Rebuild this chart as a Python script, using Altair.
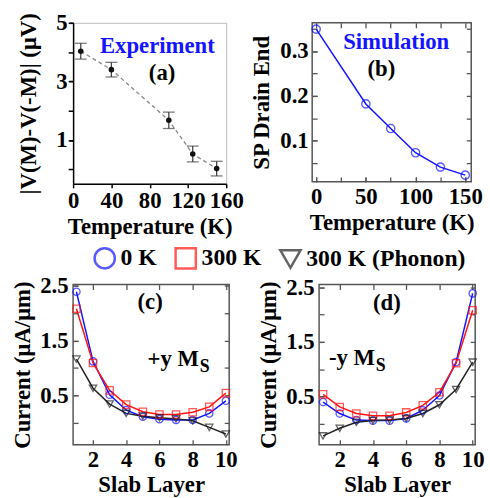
import altair as alt
import pandas as pd

FONT = "Liberation Serif"

# ---------------- data ----------------
# (a) experiment
temp_a = [8, 40, 100, 125, 150]
volt_a = [4.03, 3.40, 1.67, 0.52, 0.02]
err_a = [0.27, 0.25, 0.28, 0.27, 0.25]

# (b) simulation
temp_b = [0, 50, 75, 100, 125, 150]
sp_b = [0.349, 0.182, 0.127, 0.073, 0.041, 0.023]

# (c)/(d) slab currents
slab = [1, 2, 3, 4, 5, 6, 7, 8, 9, 10]
c_0k = [2.39, 1.12, 0.51, 0.23, 0.11, 0.065, 0.05, 0.05, 0.17, 0.40]
c_300k = [2.08, 1.09, 0.59, 0.33, 0.20, 0.15, 0.15, 0.19, 0.29, 0.54]
c_ph = [1.16, 0.63, 0.34, 0.17, 0.12, 0.09, 0.07, 0.035, -0.085, -0.205]
d_0k = [0.40, 0.19, 0.07, 0.06, 0.06, 0.10, 0.25, 0.52, 1.13, 2.39]
d_300k = [0.54, 0.31, 0.19, 0.15, 0.15, 0.21, 0.34, 0.58, 1.11, 2.08]
d_ph = [-0.22, -0.08, 0.03, 0.06, 0.07, 0.10, 0.19, 0.35, 0.63, 1.13]

series_names = ["0 K", "300 K", "300 K (Phonon)"]
series_colors = ["#1414ff", "#ff1414", "#222222"]
series_shapes = ["circle", "square", "triangle-down"]

# tick values (labelled sets are split in two so every label is kept)
a_x_lab1 = [0, 80, 160]
a_x_lab2 = [40, 120]
a_y_lab = [1, 3, 5]
a_y_all = [0, 1, 2, 3, 4, 5]
b_x_lab1 = [0, 50, 100, 150]
b_x_lab2 = []
b_x_all = [0, 25, 50, 75, 100, 125, 150]
b_y_lab = [0.1, 0.2, 0.3]
b_y_all = [0.05, 0.1, 0.15, 0.2, 0.25, 0.3, 0.35]
cd_x_lab1 = [2, 6, 10]
cd_x_lab2 = [4, 8]
cd_x_all = [2, 4, 6, 8, 10]
cd_y_lab = [0.5, 1.5, 2.5]
cd_y_all = [0, 0.5, 1, 1.5, 2, 2.5]

FRAME = "#555555"
LBL = dict(labelFont=FONT, labelFontSize=23, labelFontWeight="bold", labelColor="black",
           titleFont=FONT, titleFontSize=23, titleFontWeight="bold", titleColor="black",
           labelOverlap=False, labelFlush=False, grid=False)


# ---------------- helpers ----------------
def lab_axis(orient, values, title, fmt, title_pad, label_pad):
    return alt.Axis(orient=orient, values=values, title=title, offset=-5, tickSize=5,
                    tickColor=FRAME, tickWidth=1.3, domain=False, format=fmt,
                    labelPadding=label_pad, titlePadding=title_pad, **LBL)


def tick_axis(orient, values):
    return alt.Axis(orient=orient, values=values, title=None, offset=-5, tickSize=5,
                    tickColor=FRAME, tickWidth=1.3, domain=False, grid=False, labels=False)


def text_layer(df, size, align):
    return alt.Chart(df).mark_text(font=FONT, fontSize=size, fontWeight="bold", align=align,
                                   baseline="alphabetic" if align == "left" else "middle")


def boxed(main, df, xf, yf, sx, sy, x_lab2, x_all, y_all, fmt, w, h):
    layers = [main]
    if x_lab2:
        layers.append(alt.Chart(df).mark_point(opacity=0).encode(
            x=alt.X(xf, scale=sx, axis=lab_axis("bottom", x_lab2, None, fmt, 2, 4)),
            y=alt.Y(yf, scale=sy, axis=tick_axis("left", y_all))))
    else:
        layers.append(alt.Chart(df).mark_point(opacity=0).encode(
            x=alt.X(xf, scale=sx, axis=tick_axis("bottom", x_all)),
            y=alt.Y(yf, scale=sy, axis=tick_axis("left", y_all))))
    layers.append(alt.Chart(df).mark_point(opacity=0).encode(
        x=alt.X(xf, scale=sx, axis=tick_axis("top", x_all)),
        y=alt.Y(yf, scale=sy, axis=tick_axis("right", y_all))))
    return alt.layer(*layers).resolve_axis(
        x="independent", y="independent").properties(
        width=w, height=h, view=alt.ViewBackground(stroke=FRAME, strokeWidth=1.5))


# ---------------- panel (a) ----------------
df_a = pd.DataFrame({"T": temp_a, "V": volt_a,
                     "lo": [v - e for v, e in zip(volt_a, err_a)],
                     "hi": [v + e for v, e in zip(volt_a, err_a)]})
sx_a = alt.Scale(domain=[0, 160], nice=False, zero=False)
sy_a = alt.Scale(domain=[-0.5, 5], nice=False, zero=False)
A_TK = dict(tickSize=4, tickColor="black", tickWidth=1.5)
xa = alt.X("T:Q", scale=sx_a, axis=alt.Axis(orient="bottom", values=a_x_lab1, title="Temperature (K)",
                                            domainColor="black", domainWidth=1.5,
                                            labelPadding=2, titlePadding=3, **A_TK, **LBL))
ya = alt.Y("V:Q", scale=sy_a, axis=alt.Axis(orient="left", values=a_y_lab, title="|V(M)-V(-M)| (μV)",
                                            domainColor="black", domainWidth=1.5,
                                            labelPadding=2, titlePadding=16, **A_TK, **LBL))
base_a = alt.Chart(df_a)
line_a = base_a.mark_line(color="#888888", strokeDash=[4, 3], strokeWidth=1.3).encode(x=xa, y=ya)
bar_a = base_a.mark_rule(color="#444444", strokeWidth=1.3).encode(x="T:Q", y="lo:Q", y2="hi:Q")
caplo_a = base_a.mark_tick(orient="horizontal", size=12, thickness=1.3, color="#444444").encode(x="T:Q", y="lo:Q")
caphi_a = base_a.mark_tick(orient="horizontal", size=12, thickness=1.3, color="#444444").encode(x="T:Q", y="hi:Q")
pts_a = base_a.mark_circle(size=32, color="#111111", opacity=1).encode(x="T:Q", y="V:Q")
txt_a = text_layer(pd.DataFrame({"T": [88, 93], "V": [4.22, 3.3], "t": ["Experiment", "(a)"],
                                 "c": ["#1414ff", "black"]}), 23, "center").encode(
    x="T:Q", y="V:Q", text="t:N", color=alt.Color("c:N", scale=None))
minor_a = base_a.mark_point(opacity=0).encode(
    x=alt.X("T:Q", scale=sx_a, axis=alt.Axis(orient="bottom", values=a_x_lab2, title=None, domain=False,
                                             labelPadding=2, **A_TK, **LBL)),
    y=alt.Y("V:Q", scale=sy_a, axis=alt.Axis(orient="left", values=a_y_all, labels=False, title=None,
                                             domain=False, tickSize=5, tickColor="black",
                                             tickWidth=1.5, grid=False)))
panel_a = alt.layer(alt.layer(line_a, bar_a, caplo_a, caphi_a, pts_a, txt_a), minor_a).resolve_axis(
    x="independent", y="independent").properties(
    width=155, height=163, view=alt.ViewBackground(stroke="#bbbbbb", strokeWidth=1))

# ---------------- panel (b) ----------------
df_b = pd.DataFrame({"T": temp_b, "S": sp_b})
sx_b = alt.Scale(domain=[-4, 156], nice=False, zero=False)
sy_b = alt.Scale(domain=[0.008, 0.363], nice=False, zero=False)
xb = alt.X("T:Q", scale=sx_b, axis=lab_axis("bottom", b_x_lab1, "Temperature (K)", "d", 3, 4))
yb = alt.Y("S:Q", scale=sy_b, axis=lab_axis("left", b_y_lab, "SP Drain End", ".1f", 6, 4))
line_b = alt.Chart(df_b).mark_line(color="#1414ff", strokeWidth=1.5).encode(x=xb, y=yb)
pts_b = alt.Chart(df_b).mark_point(shape="circle", filled=False, size=70, color="#1414ff",
                                   strokeWidth=1.4).encode(x="T:Q", y="S:Q")
txt_b = text_layer(pd.DataFrame({"T": [80.5, 65.6], "S": [0.321, 0.259], "t": ["Simulation", "(b)"],
                                 "c": ["#1414ff", "black"]}), 23, "center").encode(
    x="T:Q", y="S:Q", text="t:N", color=alt.Color("c:N", scale=None))
panel_b = boxed(alt.layer(line_b, pts_b, txt_b), df_b, "T:Q", "S:Q", sx_b, sy_b,
                b_x_lab2, b_x_all, b_y_all, "d", 161, 161)

# ---------------- panels (c) and (d) ----------------
LEG = alt.Legend(orient="none", legendX=20, legendY=226, direction="horizontal", title=None,
                 symbolSize=420, symbolStrokeWidth=2.5, labelFont=FONT, labelFontSize=24,
                 labelFontWeight="bold", labelColor="black", columnPadding=13, labelOffset=4,
                 labelLimit=300, padding=0)


def slab_panel(vals, xdom, ydom, center_lbl, left_lbl, sub_lbl, w, h):
    rows = []
    for name, vv in zip(series_names, vals):
        for L, v in zip(slab, vv):
            rows.append({"L": L, "I": v, "s": name})
    df = pd.DataFrame(rows)
    sx = alt.Scale(domain=xdom, nice=False, zero=False)
    sy = alt.Scale(domain=ydom, nice=False, zero=False)
    x = alt.X("L:Q", scale=sx, axis=lab_axis("bottom", cd_x_lab1, "Slab Layer", "d", 2, 4))
    y = alt.Y("I:Q", scale=sy, axis=lab_axis("left", cd_y_lab, "Current (μA/μm)", ".1f", 5, 5))
    cscale = alt.Scale(domain=series_names, range=series_colors)
    shscale = alt.Scale(domain=series_names, range=series_shapes)
    line = alt.Chart(df).mark_line(strokeWidth=1.5).encode(
        x=x, y=y, color=alt.Color("s:N", scale=cscale, legend=LEG), detail="s:N")
    pts = alt.Chart(df).mark_point(filled=False, size=55, strokeWidth=1.3).encode(
        x="L:Q", y="I:Q",
        color=alt.Color("s:N", scale=cscale, legend=LEG),
        shape=alt.Shape("s:N", scale=shscale, legend=LEG))
    t1 = text_layer(pd.DataFrame(center_lbl), 23, "center").encode(x="L:Q", y="I:Q", text="t:N")
    t2 = text_layer(pd.DataFrame(left_lbl), 23, "left").encode(x="L:Q", y="I:Q", text="t:N")
    t3 = text_layer(pd.DataFrame(sub_lbl), 18, "left").encode(x="L:Q", y="I:Q", text="t:N")
    return boxed(alt.layer(line, pts, t1, t2, t3), df, "L:Q", "I:Q", sx, sy,
                 cd_x_lab2, cd_x_all, cd_y_all, "d", w, h)


panel_c = slab_panel([c_0k, c_300k, c_ph], [0.8, 10.2], [-0.4, 2.52],
                     {"L": [5.44], "I": [2.195], "t": ["(c)"]},
                     {"L": [5.28], "I": [1.037], "t": ["+y M"]},
                     {"L": [8.42], "I": [0.93], "t": ["S"]}, 158, 162)
panel_d = slab_panel([d_0k, d_300k, d_ph], [0.76, 10.15], [-0.38, 2.55],
                     {"L": [4.84], "I": [2.22], "t": ["(d)"]},
                     {"L": [1.35], "I": [1.07], "t": ["-y M"]},
                     {"L": [4.17], "I": [0.96], "t": ["S"]}, 158, 162)

top = alt.hconcat(panel_a, panel_b, spacing=87, bounds="flush")
bottom = alt.hconcat(panel_c, panel_d, spacing=91, bounds="flush")
chart = alt.vconcat(top, bottom, spacing=265, bounds="flush").properties(
    padding={"left": 11, "top": 8, "right": 5, "bottom": 5}
).configure(font=FONT)

chart.save("out.html", embed_options={"renderer": "svg", "actions": False})
